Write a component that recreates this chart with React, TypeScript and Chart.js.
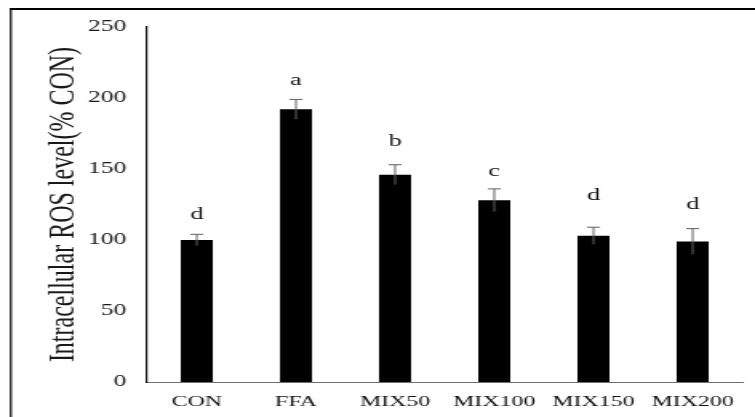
import React, { useEffect, useRef } from 'react';
import { Chart, registerables } from 'chart.js';

Chart.register(...registerables);

// ---- data ----
const categories = ['CON', 'FFA', 'MIX50', 'MIX100', 'MIX150', 'MIX200'];
const rosLevel = [100, 192, 146, 128, 103, 99];
const rosError = [4, 7, 7, 8, 6, 9];
const sigLetters = ['d', 'a', 'b', 'c', 'd', 'd'];
const letterLevel = [117.5, 212.5, 169, 148, 131.5, 125];
const yTickValues = [0, 50, 100, 150, 200, 250];
const yTitle = 'Intracellular ROS level(% CON)';

// the reference is horizontally stretched: draw narrower, display stretched
const DISPLAY_W = 755;
const DISPLAY_H = 417;
const RENDER_W = 472;

const SERIF = "'Liberation Serif', 'Times New Roman', serif";

const errorBarPlugin = {
  id: 'errorBars',
  afterDatasetsDraw(chart: any) {
    const ctx = chart.ctx;
    const meta = chart.getDatasetMeta(0);
    const yScale = chart.scales.y;
    ctx.save();
    ctx.strokeStyle = '#606060';
    ctx.lineWidth = 1;
    meta.data.forEach((bar: any, i: number) => {
      const x = bar.x;
      const yHi = yScale.getPixelForValue(rosLevel[i] + rosError[i]);
      const yLo = yScale.getPixelForValue(rosLevel[i] - rosError[i]);
      ctx.beginPath();
      ctx.moveTo(x, yLo);
      ctx.lineTo(x, yHi);
      ctx.moveTo(x - 4, yHi);
      ctx.lineTo(x + 4, yHi);
      ctx.stroke();
    });
    // significance letters
    ctx.fillStyle = '#111';
    ctx.font = `16.5px ${SERIF}`;
    ctx.textAlign = 'center';
    ctx.textBaseline = 'middle';
    meta.data.forEach((bar: any, i: number) => {
      ctx.fillText(sigLetters[i], bar.x, yScale.getPixelForValue(letterLevel[i]));
    });
    ctx.restore();
  },
};

const framePlugin = {
  id: 'frame',
  afterDraw(chart: any) {
    const ctx = chart.ctx;
    ctx.save();
    ctx.fillStyle = '#000';
    ctx.fillRect(6.2, 8, chart.width - 6.2, 2);
    ctx.fillRect(6.2, 8, 1.2, chart.height - 8);
    ctx.restore();
  },
};

export default function App() {
  const canvasRef = useRef<HTMLCanvasElement | null>(null);

  useEffect(() => {
    if (!canvasRef.current) return;
    const chart = new Chart(canvasRef.current, {
      type: 'bar',
      data: {
        labels: categories,
        datasets: [
          {
            data: rosLevel,
            backgroundColor: '#000',
            borderWidth: 0,
            barPercentage: 0.323,
            categoryPercentage: 1,
          },
        ],
      },
      options: {
        responsive: false,
        animation: false,
        devicePixelRatio: 1,
        layout: { padding: { left: 0, right: 8, top: 27, bottom: 0 } },
        plugins: {
          legend: { display: false },
          tooltip: { enabled: false },
        },
        scales: {
          x: {
            grid: { display: false, drawTicks: false },
            border: { display: true, color: '#707070', width: 1 },
            ticks: {
              color: '#111',
              font: { family: SERIF, size: 15 },
              padding: 11,
              maxRotation: 0,
              autoSkip: false,
            },
            afterFit: (s: any) => {
              s.height = 35;
            },
          },
          y: {
            min: 0,
            max: 250,
            afterBuildTicks: (s: any) => {
              s.ticks = yTickValues.map((v) => ({ value: v }));
            },
            grid: { display: false, drawTicks: false },
            border: { display: true, color: '#111', width: 1.2 },
            ticks: {
              color: '#1a1a1a',
              font: { family: SERIF, size: 16 },
              padding: 13,
            },
            title: {
              display: true,
              text: yTitle,
              color: '#1a1a1a',
              font: { family: SERIF, size: 24 },
              padding: { top: 25.6, bottom: 0 },
            },
            afterFit: (s: any) => {
              s.width = 92;
            },
          },
        },
      },
      plugins: [errorBarPlugin, framePlugin],
    });
    return () => chart.destroy();
  }, []);

  return (
    <div
      style={{
        position: 'absolute',
        left: 0,
        top: 0,
        width: DISPLAY_W,
        height: DISPLAY_H,
        background: '#fff',
        overflow: 'hidden',
      }}
    >
      <canvas
        ref={canvasRef}
        width={RENDER_W}
        height={DISPLAY_H}
        style={{ width: DISPLAY_W + 'px', height: DISPLAY_H + 'px', display: 'block' }}
      />
    </div>
  );
}
